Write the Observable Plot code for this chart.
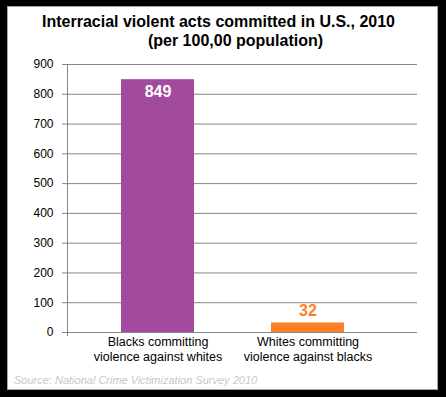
<!DOCTYPE html>
<html>
<head>
<meta charset="utf-8">
<script src="https://cdn.jsdelivr.net/npm/d3@7"></script>
<script src="https://cdn.jsdelivr.net/npm/@observablehq/plot@0.6"></script>
<style>
  html, body { margin: 0; padding: 0; }
  body { width: 446px; height: 397px; background: #000; position: relative; overflow: hidden; font-family: Arial, "Liberation Sans", sans-serif; }
  #card { position: absolute; left: 7px; top: 6px; width: 431px; height: 384px; background: #fff; border: 1px solid #a6a6a6; box-sizing: border-box; }
  .title { position: absolute; font-weight: bold; font-size: 16px; line-height: 20px; color: #000; text-align: center; white-space: nowrap; width: 400px; }
  #source { position: absolute; left: 14px; top: 374px; font-size: 11px; line-height: 13px; font-style: italic; color: #c8c8c8; white-space: nowrap; }
  #chart { position: absolute; left: 0; top: 0; }
  #chart svg { background: transparent; }
</style>
</head>
<body>
<div id="card"></div>
<div class="title" style="left:18.5px; top:12px;">Interracial violent acts committed in U.S., 2010</div>
<div class="title" style="left:35.5px; top:30.5px;">(per 100,00 population)</div>
<div id="chart"></div>
<div id="source">Source: National Crime Victimization Survey 2010</div>
<script>
const categories = ["Blacks committing\nviolence against whites", "Whites committing\nviolence against blacks"];
const values = [849, 32];
const barColors = ["#a24a9e", "#ff7f27"];
const labelColors = ["#ffffff", "#ff7f27"];
const yTicks = [0, 100, 200, 300, 400, 500, 600, 700, 800, 900];

const data = categories.map((c, i) => ({cat: c, val: values[i], color: barColors[i], lc: labelColors[i]}));

const chart = Plot.plot({
  width: 446,
  height: 397,
  marginTop: 64,
  marginBottom: 65,
  marginLeft: 67,
  marginRight: 29,
  style: { fontFamily: 'Arial, "Liberation Sans", sans-serif', background: "transparent" },
  x: { domain: categories, range: [82.25, 383.25], paddingInner: 0.512, paddingOuter: 0.256, label: null },
  y: { domain: [0, 900], label: null },
  marks: [
    Plot.ruleY(yTicks, { stroke: "#868686", strokeWidth: 1, insetLeft: -5 }),
    Plot.frame({ anchor: "left", stroke: "#868686", insetBottom: -3 }),
    Plot.barY(data, { x: "cat", y: "val", fill: "color" }),
    Plot.axisY({ ticks: yTicks, tickSize: 0, tickPadding: 14, fontSize: 12, fill: "#000", label: null }),
    Plot.axisX({ tickSize: 0, tickPadding: 3, fontSize: 12.5, fill: "#000", label: null, lineHeight: 1.2 }),
    Plot.text(data.filter(d => d.val > 100), { x: "cat", y: "val", text: d => String(d.val), fill: "lc", dy: 12, fontSize: 16, fontWeight: "bold" }),
    Plot.text(data.filter(d => d.val <= 100), { x: "cat", y: "val", text: d => String(d.val), fill: "lc", dy: -12, fontSize: 16, fontWeight: "bold" })
  ]
});
document.getElementById("chart").appendChild(chart);
</script>
</body>
</html>
